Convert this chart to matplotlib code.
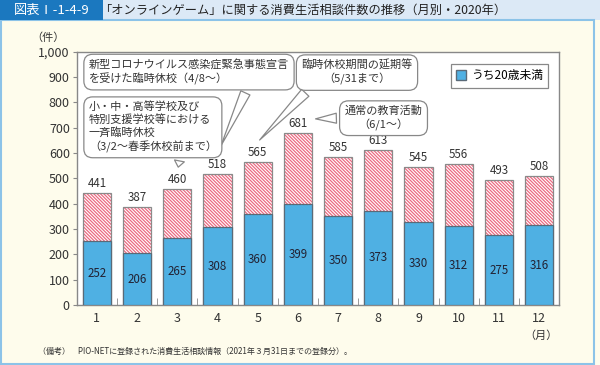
import numpy as np
import matplotlib
matplotlib.use("Agg")
import matplotlib.pyplot as plt
from matplotlib.patches import Rectangle, Patch

plt.rcParams['font.family'] = ['Noto Sans CJK JP', 'DejaVu Sans']
plt.rcParams['hatch.linewidth'] = 0.9

months = ["1", "2", "3", "4", "5", "6", "7", "8", "9", "10", "11", "12"]
total = [441, 387, 460, 518, 565, 681, 585, 613, 545, 556, 493, 508]
under20 = [252, 206, 265, 308, 360, 399, 350, 373, 330, 312, 275, 316]

title = "「オンラインゲーム」に関する消費生活相談件数の推移（月別・2020年）"
fig_no = "図表Ⅰ-1-4-9"
legend_label = "うち20歳未満"
note = "（備考）　PIO-NETに登録された消費生活相談情報（2021年３月31日までの登録分）。"

blue = "#4FB0E3"
pink = "#EC6A82"
bg = "#FEFCEC"

fig = plt.figure(figsize=(6, 3.65), dpi=100, facecolor=bg)

# header bar
fig.patches.append(Rectangle((0, 0.945), 1, 0.055, transform=fig.transFigure,
                             facecolor="#DCE9F6", edgecolor="none", zorder=0))
fig.patches.append(Rectangle((0, 0.945), 0.172, 0.055, transform=fig.transFigure,
                             facecolor="#1B78BF", edgecolor="none", zorder=1))
fig.text(0.086, 0.972, fig_no, color="white", fontsize=9.5, ha="center", va="center")
fig.text(0.165, 0.972, title, color="#222222", fontsize=8.8, ha="left", va="center")
# outer frame
fig.patches.append(Rectangle((0.002, 0.004), 0.988, 0.94, transform=fig.transFigure,
                             facecolor="none", edgecolor="#8CC3E8", lw=1.5, zorder=0))

ax = fig.add_axes([0.128, 0.164, 0.804, 0.694])
x = np.arange(1, 13)
w = 0.7

ax.bar(x, total, w, color="white", edgecolor=pink, hatch="\\" * 10, lw=0, zorder=2)
ax.bar(x, total, w, fill=False, edgecolor="#8a8a8a", lw=0.9, zorder=3)
ax.bar(x, under20, w, color=blue, edgecolor="#5a6a78", lw=0.9, zorder=4)

for xi, t, u in zip(x, total, under20):
    ax.text(xi, t + 12, str(t), ha="center", va="bottom", fontsize=8.3, color="#333333")
    ax.text(xi, u / 2, str(u), ha="center", va="center", fontsize=8.3, color="#222233", zorder=5)

ax.set_xlim(0.5, 12.5)
ax.set_ylim(0, 1000)
ax.set_xticks(x)
ax.set_xticklabels(months, fontsize=9, color="#333333")
ax.set_xticks(np.arange(1.5, 12, 1), minor=True)
ax.tick_params(axis="x", which="major", length=0, pad=5)
ax.tick_params(axis="x", which="minor", direction="in", length=5, color="#888888")
ax.set_yticks(np.arange(0, 1001, 100))
ax.set_yticklabels([f"{v:,}" for v in range(0, 1001, 100)], fontsize=9, color="#333333")
ax.tick_params(axis="y", length=3, color="#888888", pad=2)
for s in ax.spines.values():
    s.set_color("#888888")
    s.set_linewidth(1)

ax.text(-0.06, 1.035, "（件）", transform=ax.transAxes, fontsize=8, ha="center", va="bottom", color="#333333")
ax.text(12.05, -100, "（月）", fontsize=8, ha="center", va="top", color="#333333")

box = dict(boxstyle="round,pad=0.45,rounding_size=0.8", fc="white", ec="#888888", lw=0.9)
arrow = dict(arrowstyle="wedge,tail_width=0.9,shrink_factor=0.5", fc="white", ec="#888888", lw=0.9)

ax.annotate("新型コロナウイルス感染症緊急事態宣言\nを受けた臨時休校（4/8～）",
            xy=(4.06, 620), xytext=(0.8, 921), ha="left", va="center", fontsize=8,
            color="#333333", linespacing=1.3, bbox=box,
            arrowprops=dict(arrow, relpos=(0.8, 0.0)), zorder=6)
ax.annotate("小・中・高等学校及び\n特別支援学校等における\n一斉臨時休校\n（3/2～春季休校前まで）",
            xy=(3.01, 534), xytext=(0.8, 703), ha="left", va="center", fontsize=8,
            color="#333333", linespacing=1.25, bbox=box,
            arrowprops=dict(arrow, relpos=(0.72, 0.0)), zorder=6)
ax.annotate("臨時休校期間の延期等\n（5/31まで）",
            xy=(5.0, 644), xytext=(7.47, 919), ha="center", va="center", fontsize=8,
            color="#333333", linespacing=1.3, bbox=box,
            arrowprops=dict(arrow, relpos=(0.1, 0.0)), zorder=6)
ax.annotate("通常の教育活動\n（6/1～）",
            xy=(6.37, 735), xytext=(8.13, 739), ha="center", va="center", fontsize=8,
            color="#333333", linespacing=1.3, bbox=box,
            arrowprops=dict(arrow, relpos=(0.0, 0.5)), zorder=6)

leg = ax.legend([Patch(facecolor=blue, edgecolor="#5a6a78")], [legend_label],
                loc="upper right", bbox_to_anchor=(0.99, 0.975), fontsize=8.5,
                fancybox=False, edgecolor="#888888", handlelength=0.9, handleheight=0.9,
                handletextpad=0.4, borderpad=0.45, framealpha=1)
leg.get_frame().set_linewidth(0.9)

fig.text(0.063, 0.025, note, fontsize=5.8, ha="left", va="bottom", color="#333333")

fig.savefig("out.png", dpi=100, facecolor=bg)
